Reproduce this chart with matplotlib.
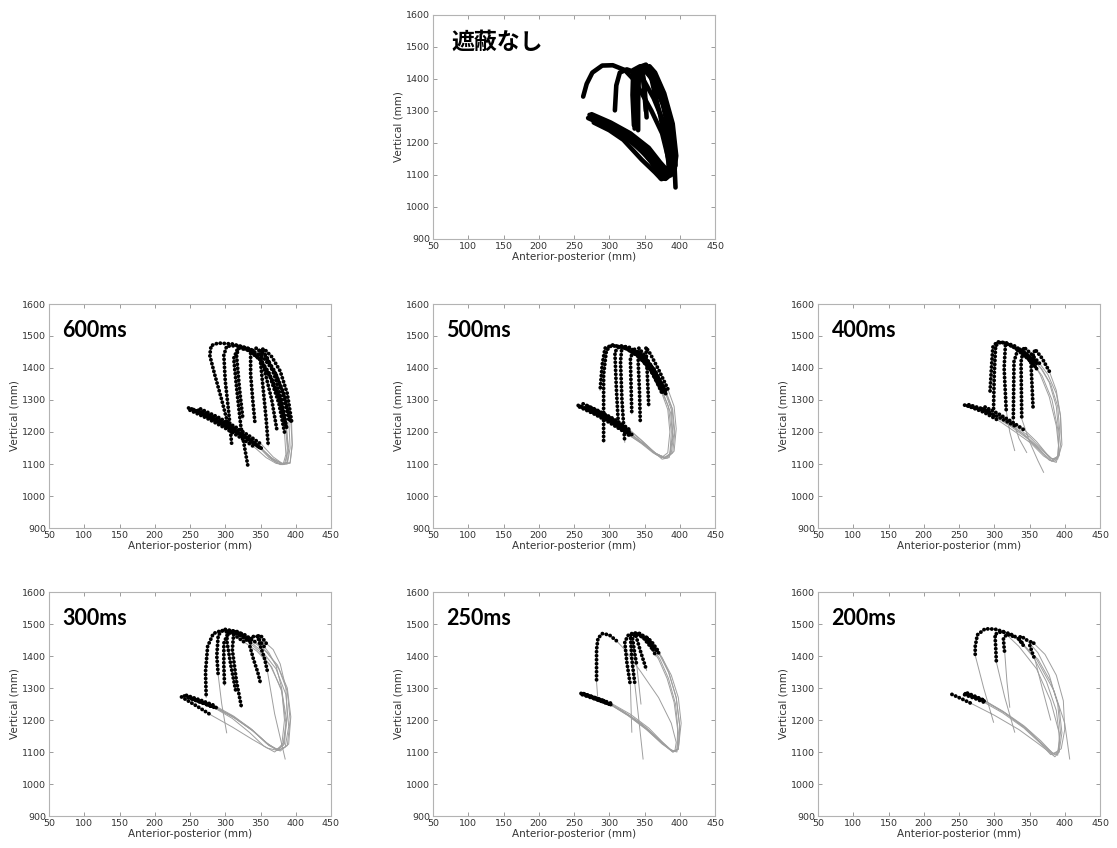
import matplotlib
matplotlib.use('Agg')
import matplotlib.pyplot as plt

# ---------------- text / axes data ----------------
TITLES = ['遮蔽なし', '600ms', '500ms', '400ms', '300ms', '250ms', '200ms']
X_TICKS = [50, 100, 150, 200, 250, 300, 350, 400, 450]
Y_TICKS = [900, 1000, 1100, 1200, 1300, 1400, 1500, 1600]
X_LABEL = 'Anterior-posterior (mm)'
Y_LABEL = 'Vertical (mm)'

# ---------------- trajectories ----------------
# each trajectory: (x waypoints, y waypoints, visible (black) index ranges)
TRAJ_NONE = [
    ([272, 300, 330, 355, 370, 378, 385, 384, 375, 360, 345, 334, 322, 305, 290, 276, 268, 263],
     [1288, 1262, 1228, 1180, 1130, 1098, 1100, 1150, 1230, 1300, 1360, 1400, 1428, 1443, 1442, 1420, 1385, 1345], [(0, 17)]),
    ([276, 305, 335, 358, 372, 380, 388, 387, 378, 363, 348, 338, 325, 315, 310, 308],
     [1280, 1252, 1212, 1165, 1115, 1095, 1105, 1170, 1260, 1340, 1400, 1420, 1430, 1420, 1380, 1302], [(0, 15)]),
    ([280, 310, 340, 360, 373, 380, 390, 392, 385, 372, 358, 347, 340, 337, 336],
     [1265, 1236, 1190, 1140, 1090, 1088, 1115, 1190, 1290, 1370, 1425, 1440, 1425, 1360, 1245], [(0, 14)]),
    ([273, 300, 330, 355, 372, 385, 393, 392, 382, 368, 355, 345, 342, 341, 341],
     [1282, 1256, 1220, 1175, 1120, 1100, 1120, 1200, 1300, 1385, 1430, 1438, 1410, 1330, 1240], [(0, 14)]),
    ([282, 310, 338, 360, 376, 388, 394, 390, 378, 364, 352, 346, 350, 353],
     [1272, 1245, 1208, 1165, 1125, 1105, 1130, 1230, 1330, 1410, 1445, 1440, 1380, 1280], [(0, 13)]),
    ([285, 315, 343, 362, 375, 382, 390, 390, 380, 366, 354, 360, 372, 384, 391, 393, 394],
     [1262, 1232, 1190, 1145, 1105, 1092, 1118, 1220, 1320, 1400, 1436, 1430, 1380, 1290, 1200, 1110, 1061], [(0, 16)]),
    ([278, 300, 320, 346, 365, 374, 382, 386, 385, 376, 362, 350, 346, 348, 352],
     [1264, 1240, 1210, 1148, 1108, 1087, 1095, 1140, 1230, 1320, 1395, 1430, 1440, 1400, 1300], [(0, 14)]),
    ([275, 302, 330, 356, 372, 384, 392, 395, 390, 378, 365, 357, 358, 364, 372, 380, 386],
     [1290, 1264, 1230, 1185, 1140, 1110, 1110, 1160, 1260, 1355, 1420, 1440, 1420, 1360, 1290, 1200, 1110], [(0, 16)]),
    ([270, 298, 328, 353, 370, 380, 388, 390, 384, 372, 358, 344, 334, 333, 335],
     [1278, 1250, 1210, 1160, 1110, 1092, 1100, 1170, 1270, 1350, 1410, 1440, 1428, 1350, 1255], [(0, 14)]),
]

TRAJ_600 = [
    ([248, 270, 295, 320, 345, 365, 380, 388, 390, 386, 378, 365, 350, 335, 318, 312, 316, 322, 332],
     [1275, 1255, 1228, 1195, 1160, 1120, 1102, 1105, 1150, 1220, 1300, 1370, 1425, 1455, 1463, 1430, 1340, 1220, 1095], [(0, 4), (9, 18)]),
    ([255, 280, 305, 330, 350, 368, 382, 392, 395, 393, 385, 372, 355, 335, 310, 290, 280, 278, 285, 295, 305],
     [1270, 1245, 1215, 1183, 1150, 1115, 1100, 1105, 1160, 1235, 1310, 1380, 1430, 1460, 1475, 1478, 1470, 1440, 1380, 1300, 1215], [(0, 4), (9, 20)]),
    ([262, 285, 310, 332, 350, 366, 378, 386, 388, 385, 376, 362, 348, 333, 320, 316, 320, 325],
     [1268, 1245, 1215, 1180, 1150, 1115, 1098, 1102, 1150, 1230, 1310, 1385, 1432, 1460, 1468, 1440, 1340, 1241], [(0, 4), (9, 17)]),
    ([252, 278, 305, 330, 352, 368, 380, 388, 392, 390, 382, 370, 356, 344, 336, 336, 339, 342],
     [1272, 1246, 1214, 1180, 1148, 1112, 1098, 1100, 1150, 1240, 1320, 1390, 1440, 1462, 1450, 1380, 1300, 1231], [(0, 4), (9, 17)]),
    ([258, 282, 308, 333, 348, 362, 374, 384, 389, 387, 380, 370, 360, 352, 350, 354, 358, 361],
     [1266, 1240, 1210, 1178, 1152, 1120, 1102, 1100, 1140, 1215, 1300, 1375, 1430, 1458, 1420, 1330, 1240, 1157], [(0, 4), (9, 17)]),
    ([265, 290, 315, 338, 352, 368, 382, 392, 395, 394, 388, 378, 366, 355, 348, 356, 366, 373],
     [1272, 1246, 1215, 1182, 1160, 1122, 1100, 1102, 1160, 1235, 1320, 1390, 1435, 1460, 1455, 1390, 1300, 1210], [(0, 4), (9, 17)]),
    ([250, 275, 300, 322, 340, 358, 372, 382, 386, 384, 376, 364, 350, 333, 316, 302, 298, 300, 305, 309],
     [1268, 1242, 1212, 1182, 1155, 1120, 1102, 1098, 1130, 1200, 1290, 1370, 1425, 1455, 1470, 1468, 1440, 1360, 1260, 1165], [(0, 4), (9, 19)]),
]

TRAJ_500 = [
    ([256, 275, 295, 315, 328, 345, 362, 375, 385, 390, 387, 376, 362, 345, 325, 305, 294, 290, 287],
     [1283, 1265, 1245, 1222, 1205, 1175, 1140, 1115, 1120, 1180, 1260, 1325, 1385, 1430, 1460, 1472, 1462, 1410, 1330], [(0, 4), (11, 18)]),
    ([263, 283, 303, 320, 330, 348, 365, 378, 386, 388, 384, 374, 358, 340, 320, 303, 296, 292, 292, 292],
     [1288, 1268, 1245, 1222, 1205, 1170, 1135, 1118, 1130, 1200, 1280, 1330, 1395, 1440, 1465, 1470, 1455, 1380, 1270, 1168], [(0, 4), (11, 19)]),
    ([270, 290, 308, 322, 332, 350, 366, 378, 386, 390, 388, 380, 366, 350, 330, 315, 308, 310, 313],
     [1280, 1258, 1235, 1212, 1192, 1160, 1130, 1118, 1130, 1200, 1270, 1320, 1385, 1432, 1462, 1470, 1450, 1340, 1220], [(0, 4), (11, 18)]),
    ([258, 280, 300, 318, 328, 345, 362, 374, 383, 386, 383, 374, 360, 345, 328, 318, 316, 318, 322],
     [1278, 1255, 1230, 1205, 1190, 1165, 1135, 1120, 1135, 1200, 1270, 1325, 1392, 1438, 1465, 1468, 1420, 1300, 1168], [(0, 4), (11, 18)]),
    ([265, 285, 305, 320, 329, 348, 366, 380, 390, 393, 390, 380, 364, 346, 335, 330, 331, 332],
     [1275, 1252, 1228, 1205, 1190, 1162, 1132, 1120, 1135, 1200, 1270, 1330, 1395, 1440, 1460, 1430, 1340, 1257], [(0, 4), (11, 17)]),
    ([275, 293, 310, 322, 330, 348, 365, 378, 388, 392, 389, 378, 363, 350, 342, 341, 343, 344],
     [1272, 1250, 1228, 1210, 1195, 1165, 1135, 1120, 1135, 1200, 1275, 1335, 1395, 1440, 1462, 1420, 1320, 1231], [(0, 4), (11, 17)]),
    ([260, 282, 303, 320, 330, 350, 368, 382, 392, 395, 392, 383, 370, 358, 352, 354, 356],
     [1280, 1256, 1230, 1206, 1192, 1160, 1130, 1118, 1140, 1210, 1280, 1335, 1395, 1445, 1465, 1380, 1280], [(0, 4), (11, 16)]),
]

TRAJ_400 = [
    ([258, 275, 292, 315, 340, 362, 378, 388, 392, 388, 378, 365, 360, 350, 335, 318, 304, 298, 296, 294],
     [1284, 1274, 1265, 1235, 1195, 1150, 1112, 1105, 1140, 1220, 1310, 1380, 1398, 1425, 1455, 1478, 1482, 1465, 1400, 1325], [(0, 2), (12, 19)]),
    ([287, 305, 325, 344, 360, 375, 386, 392, 390, 382, 368, 358, 345, 328, 310, 302, 300, 299],
     [1278, 1258, 1232, 1204, 1170, 1130, 1108, 1130, 1210, 1300, 1375, 1405, 1435, 1465, 1482, 1470, 1380, 1272], [(0, 3), (11, 17)]),
    ([262, 285, 306, 330, 352, 370, 382, 390, 393, 390, 380, 368, 360, 345, 328, 316, 314, 317, 322, 329],
     [1282, 1262, 1236, 1200, 1165, 1125, 1108, 1125, 1200, 1280, 1350, 1395, 1415, 1445, 1470, 1478, 1400, 1267, 1200, 1142], [(0, 2), (12, 17)]),
    ([268, 285, 300, 325, 348, 368, 382, 390, 392, 388, 378, 366, 358, 345, 334, 328, 327, 335, 346],
     [1280, 1265, 1250, 1215, 1178, 1135, 1110, 1120, 1190, 1280, 1355, 1400, 1418, 1445, 1462, 1420, 1236, 1180, 1136], [(0, 2), (12, 16)]),
    ([283, 305, 330, 350, 368, 382, 392, 395, 394, 388, 376, 364, 352, 342, 338, 339, 350, 362, 370],
     [1272, 1248, 1218, 1185, 1145, 1115, 1125, 1180, 1250, 1320, 1380, 1415, 1445, 1465, 1420, 1241, 1170, 1110, 1074], [(0, 2), (11, 15)]),
    ([264, 278, 292, 318, 342, 365, 380, 390, 396, 394, 388, 378, 368, 358, 352, 355],
     [1285, 1276, 1268, 1232, 1193, 1148, 1118, 1115, 1160, 1250, 1330, 1390, 1430, 1458, 1420, 1278], [(0, 2), (11, 15)]),
]

TRAJ_300 = [
    ([238, 260, 281, 310, 338, 360, 374, 384, 387, 380, 364, 345, 326, 310, 295, 283, 275, 272, 273],
     [1272, 1243, 1214, 1178, 1140, 1112, 1105, 1125, 1200, 1295, 1370, 1415, 1445, 1470, 1480, 1470, 1430, 1350, 1270], [(0, 2), (12, 18)]),
    ([245, 265, 285, 312, 338, 358, 372, 382, 386, 380, 366, 348, 330, 312, 298, 290, 288, 290, 295, 302],
     [1277, 1262, 1245, 1212, 1170, 1128, 1108, 1120, 1190, 1290, 1365, 1415, 1450, 1478, 1484, 1465, 1400, 1340, 1250, 1160], [(0, 2), (12, 17)]),
    ([250, 265, 280, 308, 335, 358, 374, 385, 390, 386, 372, 354, 334, 318, 305, 298, 298, 299],
     [1270, 1258, 1245, 1215, 1175, 1130, 1105, 1115, 1180, 1280, 1360, 1410, 1448, 1475, 1478, 1440, 1370, 1308], [(0, 2), (12, 17)]),
    ([255, 272, 288, 315, 340, 362, 376, 388, 392, 388, 376, 360, 342, 325, 312, 310, 316, 323],
     [1265, 1252, 1238, 1205, 1165, 1122, 1105, 1120, 1200, 1290, 1360, 1410, 1445, 1470, 1470, 1420, 1320, 1240], [(0, 2), (12, 17)]),
    ([242, 262, 283, 310, 335, 355, 370, 380, 384, 380, 372, 362, 355, 345, 337, 335, 340, 346, 350],
     [1275, 1258, 1240, 1205, 1160, 1118, 1100, 1118, 1200, 1300, 1370, 1410, 1430, 1462, 1460, 1430, 1390, 1350, 1315], [(0, 2), (12, 18)]),
    ([248, 268, 285, 312, 338, 360, 374, 383, 388, 386, 378, 368, 358, 350, 346, 350, 356, 360, 370, 385],
     [1270, 1254, 1240, 1208, 1168, 1125, 1108, 1130, 1210, 1300, 1375, 1420, 1440, 1465, 1462, 1430, 1390, 1350, 1220, 1078], [(0, 2), (12, 17)]),
    ([252, 270, 286, 312, 340, 362, 378, 390, 393, 388, 374, 356, 336, 318, 305, 302, 308, 315],
     [1268, 1252, 1238, 1208, 1165, 1120, 1103, 1125, 1210, 1300, 1372, 1418, 1450, 1476, 1478, 1450, 1370, 1290], [(0, 2), (12, 17)]),
]

TRAJ_250 = [
    ([263, 277, 290, 318, 345, 368, 385, 393, 395, 388, 370, 345, 322, 310, 300, 290, 284, 282, 282, 284],
     [1282, 1272, 1262, 1230, 1190, 1145, 1110, 1102, 1130, 1190, 1270, 1350, 1420, 1448, 1466, 1470, 1455, 1420, 1318, 1260], [(0, 2), (13, 18)]),
    ([265, 285, 306, 330, 355, 375, 390, 398, 402, 398, 388, 376, 367, 355, 344, 334, 327, 322, 325, 330, 332],
     [1280, 1262, 1245, 1212, 1170, 1130, 1100, 1110, 1190, 1270, 1340, 1390, 1418, 1450, 1470, 1472, 1465, 1444, 1380, 1308, 1162], [(0, 2), (12, 19)]),
    ([260, 278, 295, 322, 350, 372, 388, 396, 398, 394, 384, 372, 362, 350, 338, 330, 332, 336, 342, 348],
     [1283, 1270, 1258, 1222, 1180, 1135, 1105, 1100, 1160, 1250, 1330, 1390, 1425, 1455, 1472, 1465, 1390, 1318, 1200, 1078], [(0, 2), (12, 17)]),
    ([262, 282, 300, 326, 352, 374, 390, 398, 400, 395, 384, 370, 355, 342, 338, 345, 353],
     [1279, 1264, 1250, 1215, 1172, 1128, 1100, 1110, 1180, 1270, 1350, 1410, 1455, 1470, 1462, 1410, 1355], [(0, 2), (11, 16)]),
    ([268, 285, 302, 328, 354, 375, 390, 396, 397, 392, 382, 370, 360, 348, 338, 333, 336, 339, 345],
     [1278, 1262, 1248, 1212, 1168, 1125, 1102, 1108, 1170, 1255, 1330, 1390, 1425, 1458, 1470, 1455, 1410, 1371, 1250], [(0, 2), (12, 17)]),
    ([264, 284, 303, 330, 356, 376, 391, 398, 400, 395, 385, 375, 368, 360, 352, 358, 366],
     [1282, 1266, 1252, 1218, 1175, 1130, 1100, 1108, 1180, 1270, 1345, 1395, 1420, 1445, 1460, 1440, 1400], [(0, 2), (12, 16)]),
]

TRAJ_200 = [
    ([240, 254, 268, 300, 335, 360, 378, 386, 392, 392, 380, 360, 335, 313, 301, 287, 276, 273, 273, 285, 299],
     [1280, 1266, 1251, 1215, 1170, 1130, 1100, 1085, 1100, 1160, 1260, 1360, 1430, 1476, 1484, 1485, 1466, 1430, 1402, 1300, 1193], [(0, 2), (13, 18)]),
    ([259, 273, 287, 315, 345, 368, 384, 392, 396, 392, 380, 362, 341, 334, 322, 310, 301, 302, 303, 315, 329],
     [1282, 1270, 1258, 1222, 1175, 1125, 1090, 1100, 1160, 1240, 1320, 1390, 1434, 1455, 1470, 1476, 1468, 1430, 1381, 1270, 1162], [(0, 2), (12, 18)]),
    ([262, 274, 285, 312, 342, 366, 382, 390, 393, 388, 374, 356, 336, 326, 318, 313, 314, 315, 318, 322],
     [1280, 1270, 1262, 1228, 1182, 1135, 1098, 1090, 1140, 1230, 1320, 1395, 1448, 1462, 1468, 1455, 1425, 1407, 1320, 1240], [(0, 2), (13, 17)]),
    ([262, 275, 287, 315, 345, 368, 384, 395, 400, 398, 388, 372, 356, 352, 350, 354, 358, 368, 380],
     [1284, 1272, 1260, 1222, 1172, 1125, 1095, 1110, 1170, 1260, 1340, 1405, 1440, 1446, 1436, 1410, 1387, 1300, 1200], [(0, 2), (12, 16)]),
    ([258, 272, 285, 312, 342, 365, 380, 390, 394, 390, 378, 362, 346, 338, 334, 340, 360, 385, 400, 407],
     [1279, 1268, 1256, 1222, 1175, 1128, 1092, 1100, 1160, 1250, 1340, 1410, 1450, 1462, 1455, 1440, 1390, 1290, 1190, 1078], [(0, 2), (12, 15)]),
]

PANELS = [TRAJ_NONE, TRAJ_600, TRAJ_500, TRAJ_400, TRAJ_300, TRAJ_250, TRAJ_200]

# ---------------- layout (pixels) ----------------
W, H = 1117, 848
AX_W, AX_H = 282, 224
AX_TOPLEFT = [(433, 15), (49, 304), (433, 304), (818, 304), (49, 592), (433, 592), (818, 592)]

fig = plt.figure(figsize=(W / 100, H / 100), dpi=100)
fig.patch.set_facecolor('white')

for k, (trajs, title, (lx, ty)) in enumerate(zip(PANELS, TITLES, AX_TOPLEFT)):
    ax = fig.add_axes([lx / W, 1 - (ty + AX_H) / H, AX_W / W, AX_H / H])
    for xs, ys, black in trajs:
        ax.plot(xs, ys, color='0.62', lw=0.7, zorder=2)
        for i0, i1 in black:
            if k == 0:
                ax.plot(xs[i0:i1 + 1], ys[i0:i1 + 1], zorder=3, color='black',
                        lw=3.3, solid_capstyle='round', solid_joinstyle='round')
            else:
                ax.plot(xs[i0:i1 + 1], ys[i0:i1 + 1], zorder=3, color='black',
                        lw=2.8, linestyle=(0, (0.01, 1.02)),
                        dash_capstyle='round')
    ax.set_xlim(50, 450)
    ax.set_ylim(900, 1600)
    ax.set_xticks(X_TICKS)
    ax.set_yticks(Y_TICKS)
    ax.tick_params(direction='in', length=3, width=0.6, color='0.55',
                   labelsize=6.8, labelcolor='#333333', pad=2,
                   top=True, right=True)
    for s in ax.spines.values():
        s.set_color('0.7')
        s.set_linewidth(0.8)
    ax.set_xlabel(X_LABEL, fontsize=7.5, color='#333333', labelpad=1)
    ax.set_ylabel(Y_LABEL, fontsize=7.5, color='#333333', labelpad=2)
    if k == 0:
        ax.text(0.067, 0.88, title, transform=ax.transAxes, fontsize=16.5,
                fontweight='bold', family=['Noto Sans CJK JP', 'DejaVu Sans'],
                va='center', ha='left')
    else:
        ax.text(0.048, 0.88, title, transform=ax.transAxes, fontsize=15.5,
                fontweight='bold', family=['Lato', 'DejaVu Sans'],
                va='center', ha='left')

fig.savefig('out.png', dpi=100, facecolor='white')
